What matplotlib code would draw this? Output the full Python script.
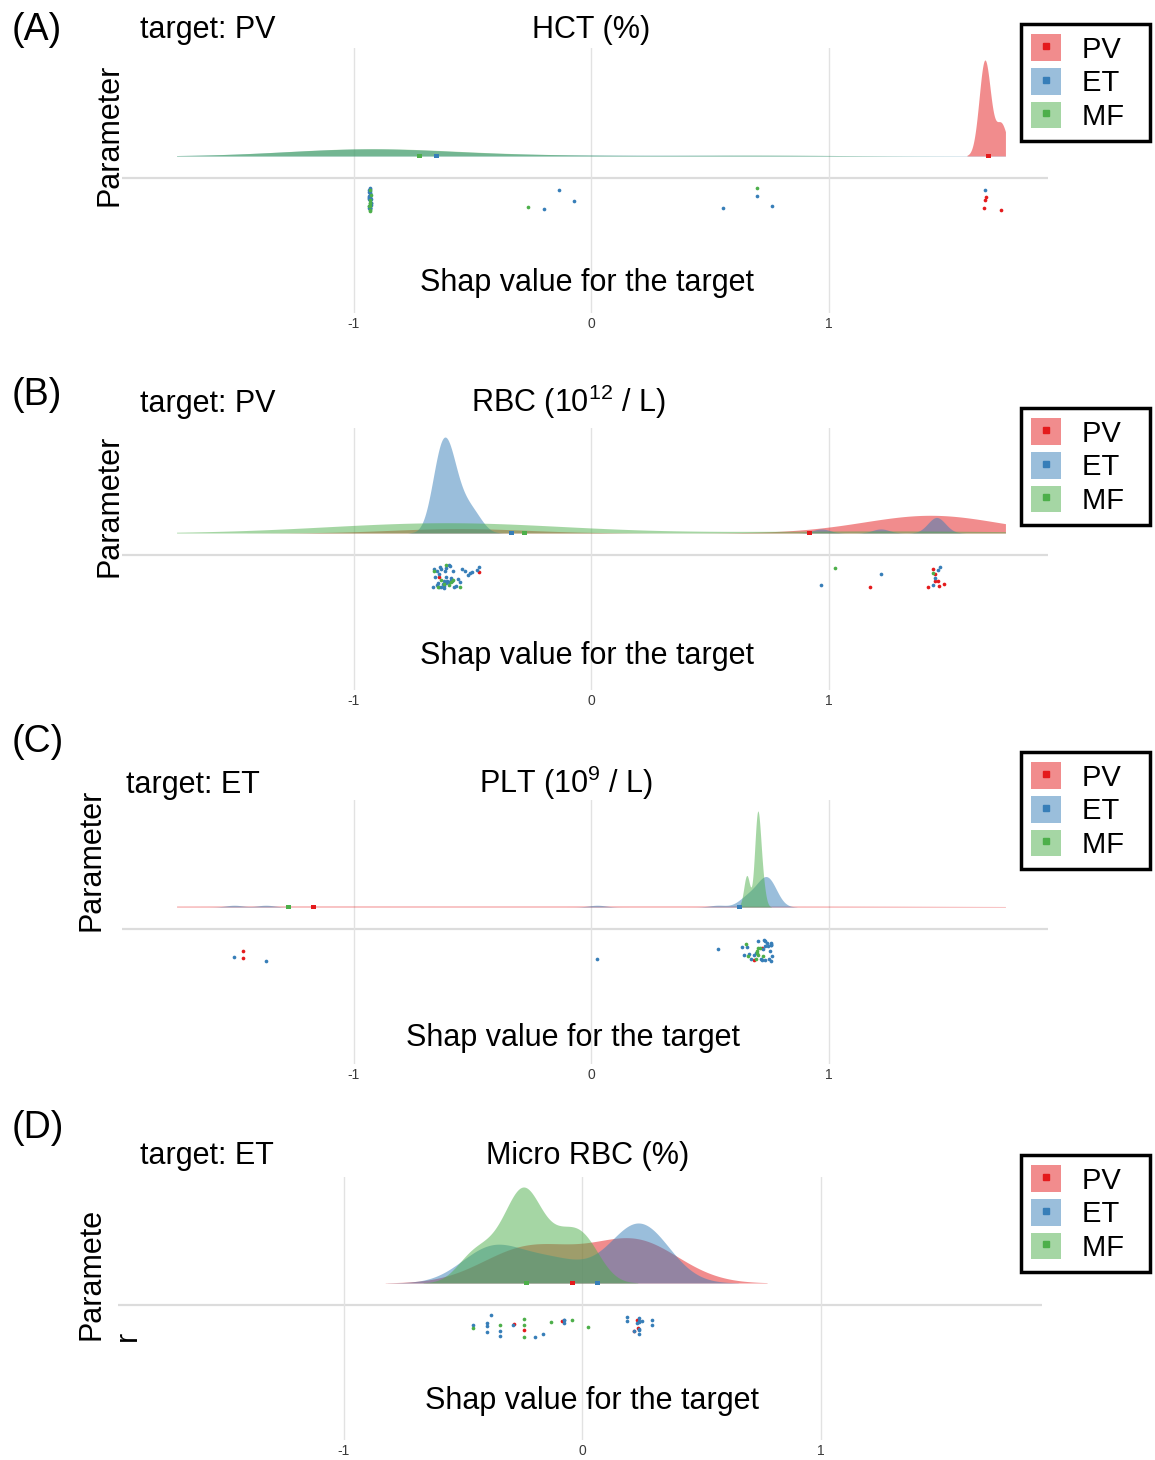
import numpy as np
import matplotlib
matplotlib.use("Agg")
import matplotlib.pyplot as plt
from matplotlib.patches import Patch
from matplotlib.lines import Line2D
from matplotlib.legend_handler import HandlerTuple

plt.rcParams['font.family'] = ['Liberation Sans', 'DejaVu Sans']
plt.rcParams['mathtext.default'] = 'regular'

# ---------------- data ----------------
groups = ['PV', 'ET', 'MF']
group_colors = ['#E41A1C', '#377EB8', '#4DAF4A']

panel_letters = ['(A)', '(B)', '(C)', '(D)']
panel_targets = ['target: PV', 'target: PV', 'target: ET', 'target: ET']
panel_params = ['HCT (%)', 'RBC (10$^{12}$ / L)', 'PLT (10$^{9}$ / L)', 'Micro RBC (%)']
x_label = 'Shap value for the target'
y_label = 'Parameter'
x_ticks = [-1, 0, 1]
x_tick_labels = ['-1', '0', '1']

# SHAP values (one list per target group) -- HCT
hct_pv = [1.655, 1.658, 1.662, 1.727]
hct_et = [-0.934, -0.933, -0.932, -0.931, -0.930, -0.929, -0.928,
          -0.934, -0.933, -0.932, -0.931, -0.930, -0.929, -0.928,
          -0.934, -0.933, -0.932, -0.931, -0.930, -0.929, -0.928,
          -0.934, -0.933, -0.932, -0.931, -0.930, -0.929, -0.928,
          -0.198, -0.133, -0.070, 0.557, 0.700, 0.761, 1.660]
hct_mf = [-0.933, -0.932, -0.931, -0.930, -0.930, -0.929, -0.928, -0.931, -0.930,
          -0.264, 0.700]
hct_means = [1.673, -0.651, -0.723]
hct_bw = [0.024, 0.35, 0.35]

# RBC
rbc_pv = [-0.64, -0.47, 1.175, 1.42, 1.44, 1.45, 1.45, 1.46, 1.464, 1.487]
rbc_et = [-0.665, -0.660, -0.655, -0.650, -0.650, -0.645, -0.640, -0.640, -0.635, -0.630,
          -0.630, -0.625, -0.620, -0.620, -0.620, -0.615, -0.610, -0.610, -0.610, -0.605,
          -0.600, -0.600, -0.595, -0.590, -0.590, -0.585, -0.580, -0.575, -0.570, -0.560,
          -0.550, -0.545, -0.530, -0.520, -0.510, -0.500, -0.480, -0.470,
          0.97, 1.22, 1.44, 1.45, 1.46, 1.47]
rbc_mf = [-0.66, -0.645, -0.63, -0.62, -0.61, -0.60, -0.59, -0.58, -0.55, 1.027, 1.438]
rbc_means = [0.921, -0.335, -0.281]
rbc_bw = [0.27, 0.035, 0.5]

# PLT
plt_pv = [-1.466, -1.466, 0.685, 0.720]
plt_et = [-1.502, -1.369, 0.026, 0.535, 0.636, 0.645, 0.655, 0.665, 0.675, 0.685, 0.695,
          0.705, 0.715, 0.720, 0.725, 0.730, 0.733, 0.733, 0.733, 0.740, 0.745, 0.750,
          0.755, 0.758, 0.758, 0.758, 0.758, 0.758, 0.762]
plt_mf = [0.652, 0.660, 0.695, 0.700, 0.700, 0.702, 0.705, 0.710, 0.724]
plt_means = [-1.167, 0.626, -1.272]
plt_bw = [1.0, 0.035, 0.012]

# Micro RBC
micro_pv = [-0.285, -0.243, -0.085, 0.220, 0.230, 0.236]
micro_et = [-0.456, -0.400, -0.400, -0.400, -0.383, -0.344, -0.344, -0.288, -0.197, -0.165,
            -0.075, -0.075, -0.075, 0.190, 0.190, 0.220, 0.230, 0.240, 0.240, 0.240,
            0.240, 0.240, 0.240, 0.250, 0.295, 0.295]
micro_mf = [-0.456, -0.344, -0.243, -0.243, -0.243, -0.130, -0.042, 0.024]
micro_means = [-0.039, 0.064, -0.232]
micro_bw = [0.18, 0.12, 0.07]

panel_samples = [[hct_pv, hct_et, hct_mf], [rbc_pv, rbc_et, rbc_mf],
                 [plt_pv, plt_et, plt_mf], [micro_pv, micro_et, micro_mf]]
panel_means = [hct_means, rbc_means, plt_means, micro_means]
panel_bw = [hct_bw, rbc_bw, plt_bw, micro_bw]
density_limit = [1.745, 1.745, 1.745, None]

# ---------------- layout (pixels) ----------------
W, H = 1155, 1460
layout = [
    dict(hline=178, top=48, left=122, right=1048, zero=591, unit=237.5, letter_y=30,
         title_base=38, target_x=140, param_x=591, xlab_x=587, xlab_base=291,
         ylab_x=110, ylab_y=135, legend_top=24),
    dict(hline=555, top=428, left=122, right=1048, zero=591, unit=237.5, letter_y=395,
         title_base=412, target_x=140, param_x=568, xlab_x=587, xlab_base=664,
         ylab_x=110, ylab_y=506, legend_top=408),
    dict(hline=929, top=800, left=122, right=1048, zero=591, unit=237.5, letter_y=742,
         title_base=793, target_x=126, param_x=566, xlab_x=573, xlab_base=1046,
         ylab_x=92, ylab_y=860, legend_top=752),
    dict(hline=1305, top=1177, left=118, right=1042, zero=582, unit=238.5, letter_y=1128,
         title_base=1164, target_x=140, param_x=588, xlab_x=592, xlab_base=1409,
         ylab_x=92, ylab_y=1274, legend_top=1155),
]
BASE = 22        # density baseline above category line (px)
PEAK = 96        # tallest density (px)
FS = 22


def fx(px):
    return px / W


def fy(py):
    return 1 - py / H


def kde(samples, bw, limit, n=800):
    s = np.asarray(samples, dtype=float)
    lo, hi = s.min() - 3 * bw, s.max() + 3 * bw
    if limit is not None:
        lo, hi = max(lo, -limit), min(hi, limit)
    grid = np.linspace(lo, hi, n)
    d = np.exp(-0.5 * ((grid[:, None] - s[None, :]) / bw) ** 2).sum(1)
    d /= len(s) * bw * np.sqrt(2 * np.pi)
    return grid, d


fig = plt.figure(figsize=(W / 100, H / 100), dpi=100)
rng = np.random.default_rng(11)

for i, L in enumerate(layout):
    bottom = L['hline'] + 135
    ax = fig.add_axes([fx(L['left']), fy(bottom), (L['right'] - L['left']) / W,
                       (bottom - L['top']) / H])
    ax.set_xlim((L['left'] - L['zero']) / L['unit'], (L['right'] - L['zero']) / L['unit'])
    ax.set_ylim(-135, L['hline'] - L['top'])
    for sp in ax.spines.values():
        sp.set_visible(False)
    ax.set_yticks([])
    ax.set_xticks(x_ticks, x_tick_labels)
    ax.tick_params(axis='x', length=0, pad=3, labelsize=10, labelcolor='#3a3a3a')
    ax.grid(axis='x', color='#e2e2e2', lw=1.0)
    ax.set_axisbelow(True)
    ax.axhline(0, color='#dcdcdc', lw=1.6, zorder=0.5)

    dens = [kde(s, bw, density_limit[i]) for s, bw in zip(panel_samples[i], panel_bw[i])]
    scale = PEAK / max(d.max() for _, d in dens)
    for (g, d), col in zip(dens, group_colors):
        ax.fill_between(g, BASE, BASE + d * scale, color=col, alpha=0.5, lw=0, zorder=2)
    for s, col in zip(panel_samples[i], group_colors):
        jit = rng.uniform(-33, -10, len(s))
        ax.scatter(s, jit, s=7, color=col, lw=0, zorder=3)
    ax.scatter(panel_means[i], [BASE] * 3, s=12, marker='s', color=group_colors, lw=0, zorder=4)

    ax.text((L['xlab_x'] - L['zero']) / L['unit'], L['hline'] - L['xlab_base'], x_label,
            ha='center', va='baseline', fontsize=FS)

    fig.text(fx(12), fy(L['letter_y']), panel_letters[i], fontsize=27, ha='left', va='center')
    fig.text(fx(L['target_x']), fy(L['title_base']), panel_targets[i], fontsize=FS,
             ha='left', va='baseline')
    fig.text(fx(L['param_x']), fy(L['title_base']), panel_params[i], fontsize=FS,
             ha='center', va='baseline')
    if i < 3:
        fig.text(fx(L['ylab_x']), fy(L['ylab_y']), y_label, fontsize=FS, rotation=90,
                 ha='center', va='center')
    else:
        fig.text(fx(L['ylab_x']), fy(L['ylab_y']), y_label[:-1], fontsize=FS, rotation=90,
                 ha='center', va='center')
        fig.text(fx(128), fy(1341), y_label[-1], fontsize=FS, rotation=90,
                 ha='center', va='bottom')

    handles = [(Patch(facecolor=c, alpha=0.5, lw=0),
                Line2D([], [], marker='s', ms=5, color=c, ls='')) for c in group_colors]
    leg = fig.legend(handles, [g + '  ' for g in groups], loc='upper left',
                     bbox_to_anchor=(fx(1021), fy(L['legend_top'])), borderaxespad=0,
                     fontsize=21, handlelength=1.03, handleheight=1.03, labelspacing=0.15,
                     borderpad=0.35, handletextpad=0.7, fancybox=False, framealpha=1,
                     edgecolor='black', handler_map={tuple: HandlerTuple(ndivide=1, pad=0)})
    leg.get_frame().set_linewidth(2.5)

fig.savefig('out.png', dpi=100)
